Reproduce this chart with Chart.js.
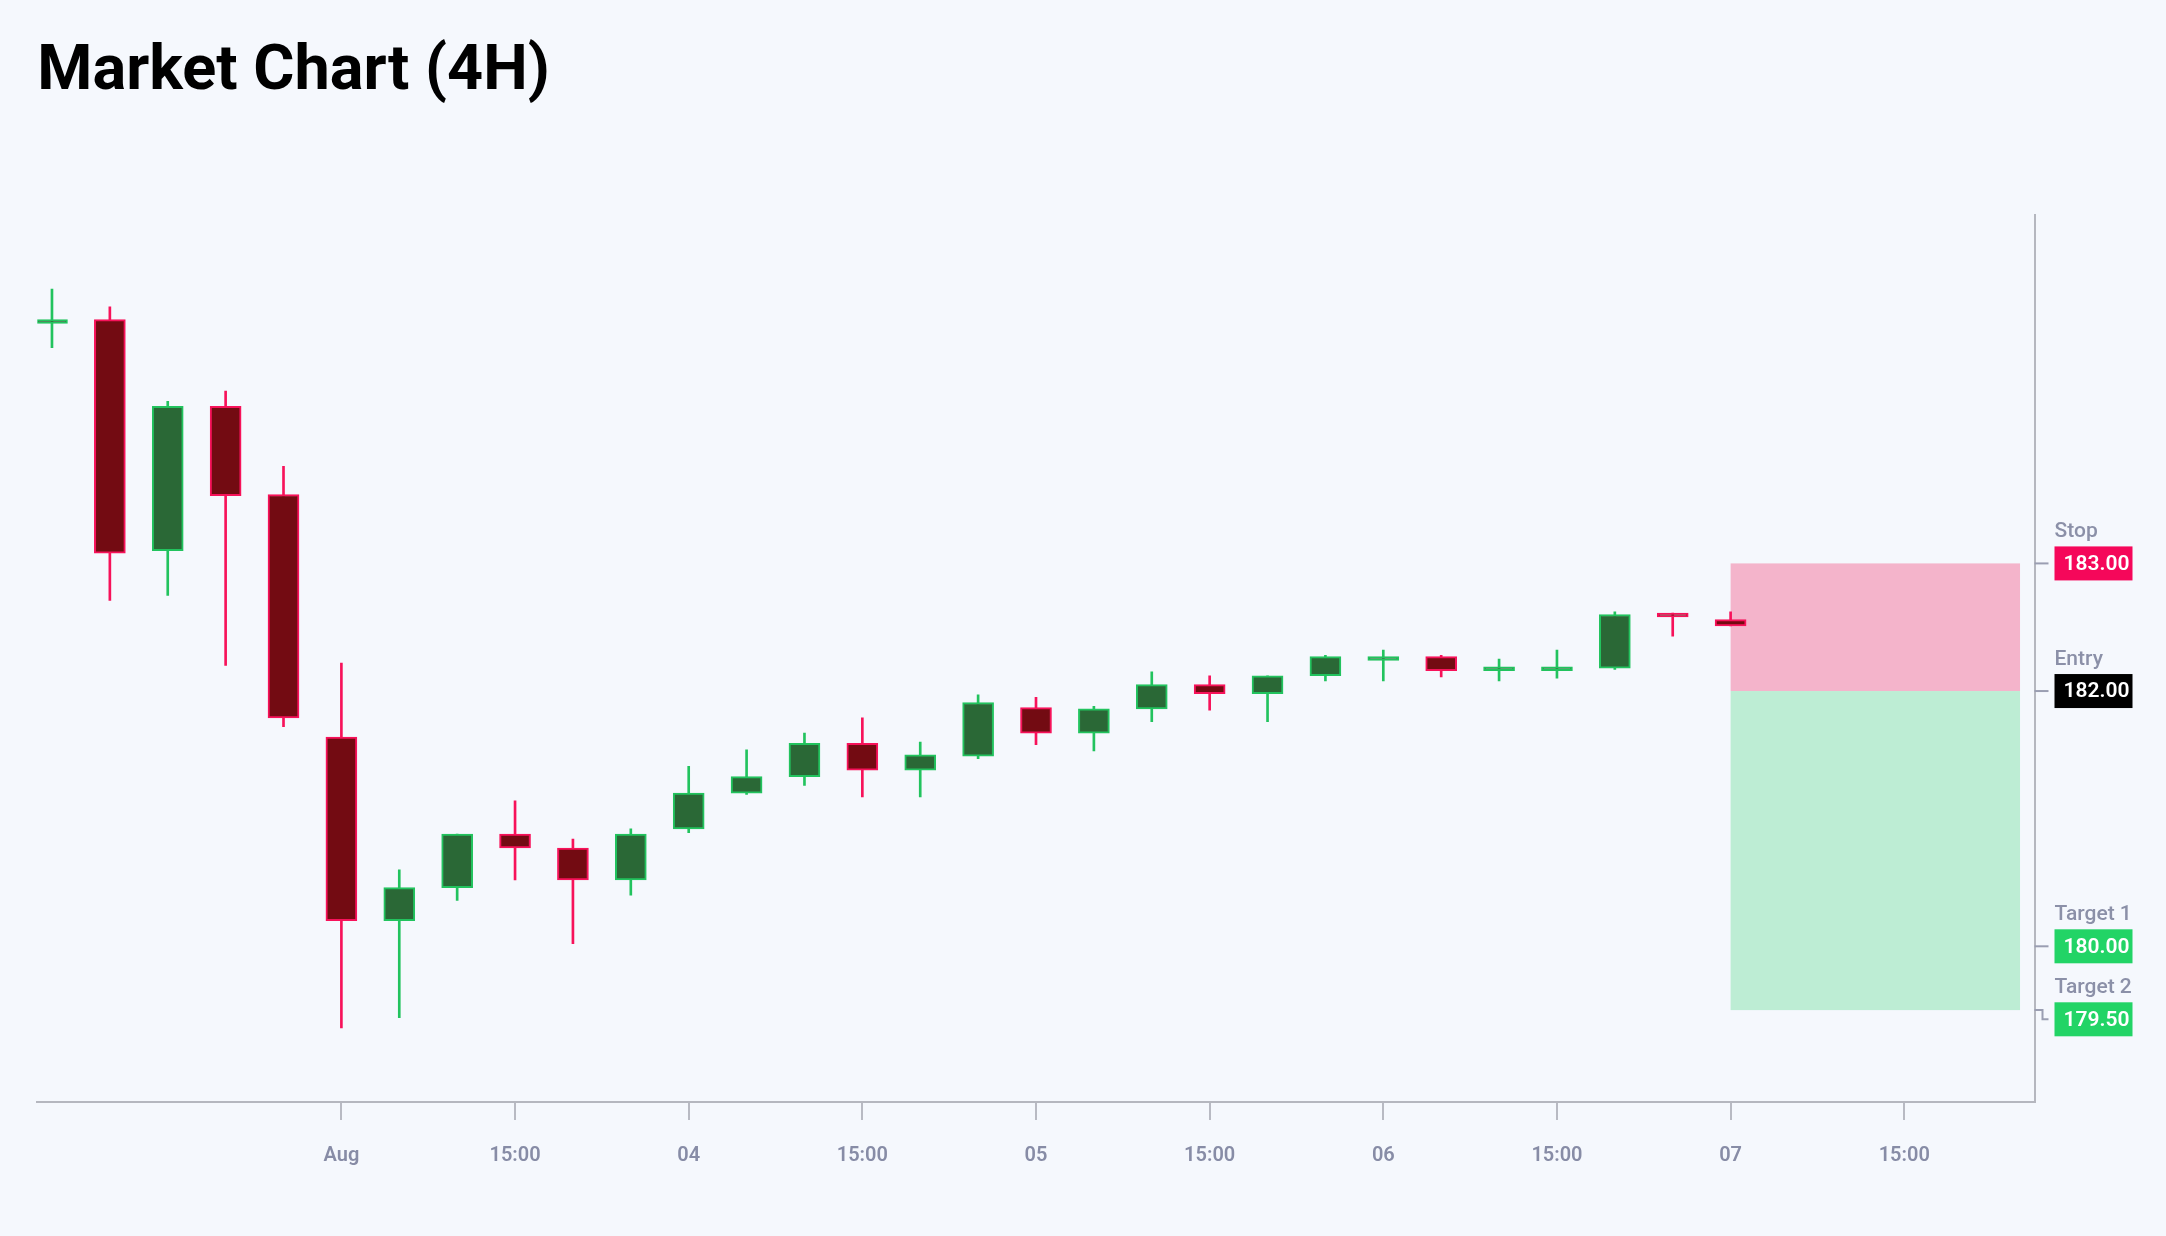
<!DOCTYPE html>
<html>
<head>
<meta charset="utf-8">
<title>Market Chart (4H)</title>
<script src="https://cdn.jsdelivr.net/npm/chart.js@4.4.1/dist/chart.umd.min.js"></script>
<style>
  html, body { margin: 0; padding: 0; background: #f5f8fd; overflow: hidden; }
  #marketChart { display: block; width: 2166px; height: 1236px; }
</style>
</head>
<body>
<canvas id="marketChart" width="2166" height="1236"></canvas>
<script>
// 4H candles, one per bar index
const openPrices  = [184.88, 184.91, 183.10, 184.23, 183.54, 181.64, 180.20, 180.46, 180.88, 180.77,
                     180.52, 180.92, 181.20, 181.33, 181.59, 181.38, 181.49, 181.87, 181.67, 181.86,
                     182.05, 181.98, 182.12, 182.24, 182.27, 182.16, 182.16, 182.18, 182.61, 182.56];
const highPrices  = [185.15, 185.01, 184.27, 184.35, 183.76, 182.22, 180.60, 180.88, 181.14, 180.84,
                     180.92, 181.41, 181.54, 181.67, 181.79, 181.60, 181.97, 181.95, 181.88, 182.15,
                     182.12, 182.12, 182.28, 182.32, 182.28, 182.25, 182.32, 182.62, 182.61, 182.62];
const lowPrices   = [184.69, 182.71, 182.75, 182.20, 181.72, 179.36, 179.44, 180.36, 180.52, 180.02,
                     180.40, 180.89, 181.19, 181.26, 181.17, 181.17, 181.47, 181.58, 181.53, 181.76,
                     181.85, 181.76, 182.08, 182.08, 182.11, 182.08, 182.10, 182.17, 182.43, 182.51];
const closePrices = [184.91, 183.08, 184.23, 183.53, 181.79, 180.20, 180.46, 180.88, 180.77, 180.52,
                     180.88, 181.20, 181.33, 181.59, 181.38, 181.50, 181.91, 181.67, 181.86, 182.05,
                     181.98, 182.12, 182.27, 182.27, 182.16, 182.19, 182.19, 182.60, 182.58, 182.51];

const tickIndexes = [5, 8, 11, 14, 17, 20, 23, 26, 29, 32];
const tickLabels = ["Aug", "15:00", "04", "15:00", "05", "15:00", "06", "15:00", "07", "15:00"];

const levelNames = ["Stop", "Entry", "Target 1", "Target 2"];
const levelPrices = [183.00, 182.00, 180.00, 179.50];
const levelColors = ["#f5075a", "#000000", "#22d466", "#22d466"];

// trade box spans these bar indexes
const zoneFrom = 29;
const zoneTo = 34;

const isUp = (i) => closePrices[i] >= openPrices[i];
const bodyFill = openPrices.map((o, i) => isUp(i) ? "#2a6836" : "#730b12");
const lineColor = openPrices.map((o, i) => isUp(i) ? "#22c35e" : "#f7125a");

const tradeLevels = {
  id: "tradeLevels",
  beforeDatasetsDraw(chart) {
    const { ctx, scales: { x, y } } = chart;
    const left = x.getPixelForValue(zoneFrom);
    const right = x.getPixelForValue(zoneTo);
    const stopY = y.getPixelForValue(levelPrices[0]);
    const entryY = y.getPixelForValue(levelPrices[1]);
    const lastY = y.getPixelForValue(Math.min(...levelPrices));
    ctx.save();
    ctx.fillStyle = "#f4b4cb";
    ctx.fillRect(left, stopY, right - left, entryY - stopY);
    ctx.fillStyle = "#bdedd4";
    ctx.fillRect(left, entryY, right - left, lastY - entryY);
    ctx.restore();
  },
  afterDraw(chart) {
    const { ctx, chartArea, scales: { y } } = chart;
    const axisX = chartArea.right;
    let prevBottom = -Infinity;
    ctx.save();
    levelPrices.forEach((price, i) => {
      const tickY = y.getPixelForValue(price);
      let cy = tickY;
      // push the label group down when it would touch the one above
      if (cy - 41 < prevBottom + 15) cy = prevBottom + 15 + 41;
      prevBottom = cy + 17;

      ctx.strokeStyle = "#9a9eb2";
      ctx.lineWidth = 2;
      ctx.beginPath();
      ctx.moveTo(axisX, tickY);
      ctx.lineTo(axisX + 8, tickY);
      ctx.lineTo(axisX + 8, cy);
      ctx.lineTo(axisX + 14, cy);
      ctx.stroke();

      ctx.fillStyle = levelColors[i];
      ctx.fillRect(axisX + 20, cy - 17, 78, 34);

      ctx.fillStyle = "#ffffff";
      ctx.font = "600 21px Roboto";
      ctx.textAlign = "left";
      ctx.textBaseline = "middle";
      ctx.fillText(price.toFixed(2), axisX + 29, cy + 1);

      ctx.fillStyle = "#8b90a8";
      ctx.font = "500 21px Roboto";
      ctx.textBaseline = "alphabetic";
      ctx.fillText(levelNames[i], axisX + 20, cy - 26);
    });
    ctx.restore();
  }
};

Chart.defaults.font.family = "Roboto";

new Chart(document.getElementById("marketChart"), {
  type: "bar",
  data: {
    datasets: [
      {
        label: "Wick",
        data: lowPrices.map((l, i) => ({ x: i, y: [l, highPrices[i]] })),
        backgroundColor: lineColor,
        borderWidth: 0,
        barThickness: 2,
        grouped: false,
        order: 2
      },
      {
        label: "Body",
        data: openPrices.map((o, i) => ({ x: i, y: [o, closePrices[i]] })),
        backgroundColor: bodyFill,
        borderColor: lineColor,
        borderWidth: 2,
        borderSkipped: false,
        barThickness: 31,
        minBarLength: 3,
        grouped: false,
        order: 1
      }
    ]
  },
  options: {
    responsive: false,
    animation: false,
    devicePixelRatio: 1,
    layout: { padding: { left: 37.3, right: 131.5, top: 0, bottom: 44 } },
    plugins: {
      legend: { display: false },
      tooltip: { enabled: false },
      title: {
        display: true,
        text: "Market Chart (4H)",
        align: "start",
        color: "#000000",
        font: { family: "Roboto", size: 63, weight: "700", lineHeight: 1.2 },
        padding: { top: 35, bottom: 104.4 }
      }
    },
    scales: {
      x: {
        type: "linear",
        min: -0.2535,
        max: 34.25,
        offset: false,
        afterBuildTicks: (scale) => { scale.ticks = tickIndexes.map((v) => ({ value: v })); },
        ticks: {
          callback: (value, index) => tickLabels[index],
          color: "#878ca6",
          font: { size: 20, weight: "600" },
          padding: 24,
          maxRotation: 0,
          autoSkip: false
        },
        grid: { offset: false, drawOnChartArea: false, drawTicks: true, tickLength: 18, color: "#b8bac3", lineWidth: 2 },
        border: { display: true, color: "#b5b7bf", width: 2 }
      },
      y: {
        position: "right",
        min: 178.78,
        max: 185.73,
        ticks: { display: false },
        grid: { display: false, drawTicks: false },
        border: { display: true, color: "#b5b7bf", width: 2 }
      }
    }
  },
  plugins: [tradeLevels]
});
</script>
</body>
</html>
